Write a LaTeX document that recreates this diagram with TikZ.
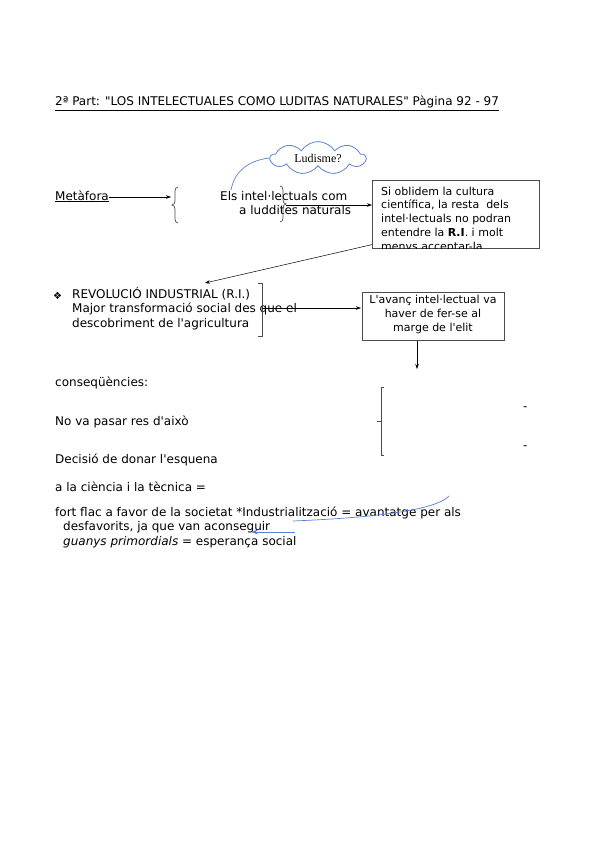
\documentclass[tikz,border=0pt]{standalone}
\usepackage{fontspec}
\setmainfont{DejaVu Sans}[Ligatures=TeXOff]
\newfontfamily\cloudfont{Liberation Serif}
\usetikzlibrary{arrows.meta, shapes.symbols}

\definecolor{ludblue}{RGB}{90,130,210}
\tikzset{
  txt/.style={anchor=base west, inner sep=0pt, font=\fontsize{12}{14.5}\selectfont},
  boxtxt/.style={inner sep=0pt, font=\fontsize{11}{13.5}\selectfont},
  frame/.style={draw=gray!60!black, line width=0.6pt, inner sep=0pt, anchor=north west},
  brk/.style={draw=gray!60!black, line width=0.7pt},
  conn/.style={->, line width=0.5pt},
  bconn/.style={ludblue, line width=0.7pt}
}

\begin{document}
\begin{tikzpicture}[x=1pt, y=-1pt, >={Stealth[length=5pt, width=3.5pt]}]
  \useasboundingbox (0,0) rectangle (599,848);
  \fill[white] (0,0) rectangle (599,848);

  % title
  \node[txt] (title) at (55,106) {\underline{2ª Part: "LOS INTELECTUALES COMO LUDITAS NATURALES" Pàgina 92 - 97}};

  % metafora row
  \node[txt] (met) at (55,200) {\underline{Metàfora}};
  \coordinate (lbr) at (171,197);
  \draw[brk] (178,187) to[out=180,in=90] (175,191) -- (175,201) to[out=-90,in=0] (172,205)
             to[out=0,in=90] (175,209) -- (175,219) to[out=-90,in=180] (178,223);
  \draw[conn] (met.east |- lbr) -- (lbr);

  % base of a multi-line node = last line
  \node[txt, align=left, font=\fontsize{12}{14}\selectfont] (els) at (220,214)
    {Els intel·lectuals com\\ \hspace*{19pt}a luddites naturals};
  \coordinate (rbr) at (286,205);
  \draw[brk] (280,186) to[out=0,in=90] (283,190) -- (283,200) to[out=-90,in=180] (286,204)
             to[out=180,in=90] (283,208) -- (283,218) to[out=-90,in=0] (280,222);

  % cloud
  \node[cloud, cloud puffs=9, cloud puff arc=115, aspect=3.1, draw=ludblue, line width=0.8pt,
        fill=white, minimum width=95pt, minimum height=31pt, inner sep=0pt,
        font=\cloudfont\fontsize{12}{14}\selectfont] (cloud) at (318,158) {Ludisme?};
  \coordinate (clend) at (231,190);
  \draw[bconn] (cloud.west) .. controls (245,161) and (234,174) .. (clend);

  % first box
  \node[frame, minimum width=167pt, minimum height=68pt] (sibox) at (372,180) {};
  \begin{scope}
    \clip (sibox.north west) rectangle (sibox.south east);
    \node[boxtxt, anchor=base west, align=left, font=\fontsize{11}{13.75}\selectfont] (sitxt) at (381,250)
      {Si oblidem la cultura\\científica, la resta\ \ dels\\intel·lectuals no podran\\entendre la \textbf{R.I}. i molt\\menys acceptar-la};
  \end{scope}
  \draw[conn] (rbr) -- (rbr -| sibox.west);

  % revolucio
  \coordinate (ri) at (205,283);
  \draw[conn] ([yshift=4pt]sibox.south west) -- (ri);
  \node[txt, font=\fontsize{10}{12}\selectfont] (bul) at (53,299) {❖};
  \node[txt, align=left] (rev) at (72,327)
    {REVOLUCIÓ INDUSTRIAL (R.I.)\\Major transformació social des que el\\descobriment de l'agricultura};
  \draw[brk] (258,283) -- (262,283) -- (262,336) -- (258,336);
  \coordinate (rvb) at (262,308);

  % second box
  \node[frame, minimum width=142pt, minimum height=48pt] (avbox) at (362,292) {};
  \node[boxtxt, anchor=base, align=center, font=\fontsize{11}{14}\selectfont] (avtxt) at (433,331)
    {L'avanç intel·lectual va\\haver de fer-se al\\marge de l'elit};
  \draw[conn] (rvb) -- ([xshift=-1pt]rvb -| avbox.west);
  \coordinate (avend) at (417,369);
  \draw[conn] (avbox.south -| avend) -- (avend);

  % consequencies
  \node[txt] (cons) at (55,386) {conseqüències:};
  \node[txt] (nova) at (55,425) {No va pasar res d'això};
  \node[txt] (deci) at (55,463) {Decisió de donar l'esquena};
  \node[txt] (cien) at (55,491) {a la ciència i la tècnica =};
  \draw[brk] (384,387) -- (381,387) -- (381,455) -- (384,455);
  \draw[brk] (381,421) -- (377,421);
  \node[txt] (dash1) at (523,410) {-};
  \node[txt] (dash2) at (523,449) {-};

  % industrialitzacio
  \node[txt] (fort) at (55,516) {fort flac a favor de la societat *Industrialització = avantatge per als};
  \node[txt] (desf) at (63,530) {desfavorits, ja que van aconseguir};
  \node[txt] (guan) at (63,545) {\textit{guanys primordials} = esperança social};
  \coordinate (bc1) at (449,496);
  \coordinate (bc2) at (293,521);
  \draw[bconn] (bc1) .. controls (432,514) and (340,519) .. (bc2);
  \coordinate (ba1) at (295,532);
  \coordinate (ba2) at (251,532);
  \draw[bconn, -{Stealth[length=7pt, width=5pt]}] (ba1) -- (ba2);
\end{tikzpicture}
\end{document}
